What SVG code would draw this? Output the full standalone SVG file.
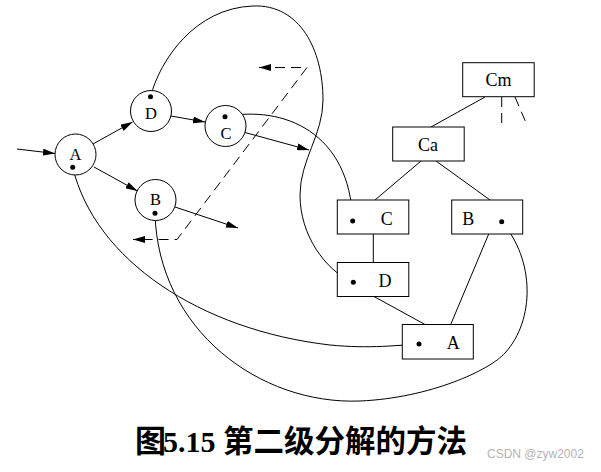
<svg xmlns="http://www.w3.org/2000/svg" width="601" height="472" viewBox="0 0 601 472">
<style>
.c{fill:#fff;stroke:#000;stroke-width:1}
.b{fill:#fff;stroke:#000;stroke-width:1}
.l{fill:none;stroke:#000;stroke-width:1}
.d{fill:none;stroke:#000;stroke-width:1;stroke-dasharray:10,6}
.t{font-family:"Liberation Serif","Times New Roman",serif;fill:#000;text-anchor:middle}
.tc{font-size:16.5px}
.tb{font-size:18px}
.dot{fill:#000;stroke:none}
.ah{fill:#000;stroke:none}
</style>
<defs>
<marker id="arr" markerUnits="userSpaceOnUse" markerWidth="13" markerHeight="7" refX="12" refY="3.5" orient="auto">
<path class="ah" d="M0,0 L12,3.5 L0,7 Z"/>
</marker>
<marker id="arrs" markerUnits="userSpaceOnUse" markerWidth="13" markerHeight="7" refX="12" refY="3.5" orient="auto-start-reverse">
<path class="ah" d="M0,0 L12,3.5 L0,7 Z"/>
</marker>
</defs>
<rect width="601" height="472" fill="#fff"/>

<g id="connectors">
<line class="l" x1="17" y1="149" x2="55" y2="153.5" marker-end="url(#arr)"/>
<line class="l" x1="93" y1="144" x2="132.5" y2="122" marker-end="url(#arr)"/>
<line class="l" x1="94" y1="167" x2="137.5" y2="191" marker-end="url(#arr)"/>
<line class="l" x1="171" y1="116" x2="205" y2="122" marker-end="url(#arr)"/>
<line class="l" x1="245" y1="132.5" x2="309" y2="150" marker-end="url(#arr)"/>
<line class="l" x1="175" y1="207" x2="238" y2="228" marker-end="url(#arr)"/>
<path class="d" d="M259,67.5 L307,67.5 L177,239.5 L133,239.5" marker-start="url(#arrs)" marker-end="url(#arrs)"/>
<path class="l" d="M150.5,96.7 C160,60 195,8 253,6 C300,4 323,50 323,100 C323,135 300,160 300,195 C300,235 325,270 353,282.5"/>
<path class="l" d="M225,116.7 C283,105 350,132 352.7,221"/>
<path class="l" d="M72.7,167.3 C95,260 200,330 330,345 C370,349 400,345 419,344"/>
<path class="l" d="M155,213.3 C158,330 260,405 360,401 C430,398 490,370 505,353 C535,320 535,260 501.7,221.7"/>
<line class="l" x1="485" y1="97" x2="431" y2="127"/>
<line class="d" x1="501.7" y1="97" x2="501.7" y2="124"/>
<line class="d" x1="515" y1="97" x2="527" y2="125"/>
<line class="l" x1="421" y1="161" x2="375" y2="200"/>
<line class="l" x1="436" y1="161" x2="490" y2="200"/>
<line class="l" x1="373.3" y1="234" x2="373.3" y2="262.5"/>
<line class="l" x1="374" y1="296.5" x2="425" y2="324.5"/>
<line class="l" x1="488.7" y1="234" x2="450.7" y2="324.5"/>
</g>

<g id="circleA">
<circle class="c" cx="75.5" cy="154.5" r="20.5"/>
<text class="t tc" x="75.5" y="159.5">A</text>
<circle class="dot" cx="72.7" cy="167.3" r="2.5"/>
</g>
<g id="circleD">
<circle class="c" cx="151" cy="111" r="20.5"/>
<text class="t tc" x="151" y="119">D</text>
<circle class="dot" cx="150.5" cy="96.7" r="2.5"/>
</g>
<g id="circleC">
<circle class="c" cx="225.5" cy="126" r="20.5"/>
<text class="t tc" x="226" y="138.5">C</text>
<circle class="dot" cx="225" cy="116.7" r="2.5"/>
</g>
<g id="circleB">
<circle class="c" cx="155.5" cy="200" r="20.5"/>
<text class="t tc" x="155.5" y="205">B</text>
<circle class="dot" cx="155" cy="213.3" r="2.5"/>
</g>

<g id="boxCm">
<rect class="b" x="462.7" y="62.7" width="71.5" height="34"/>
<text class="t tb" x="498.5" y="85.5">Cm</text>
</g>
<g id="boxCa">
<rect class="b" x="392.7" y="127" width="71.5" height="34"/>
<text class="t tb" x="428" y="151">Ca</text>
</g>
<g id="boxC">
<rect class="b" x="337.3" y="200" width="71.5" height="34"/>
<text class="t tb" x="386.7" y="225">C</text>
<circle class="dot" cx="352.7" cy="221" r="2.5"/>
</g>
<g id="boxB">
<rect class="b" x="451.7" y="200" width="71" height="34"/>
<text class="t tb" x="468.3" y="225">B</text>
<circle class="dot" cx="501.7" cy="221.7" r="2.5"/>
</g>
<g id="boxD">
<rect class="b" x="337.3" y="262.5" width="71.5" height="34"/>
<text class="t tb" x="385" y="286.7">D</text>
<circle class="dot" cx="353.3" cy="282.3" r="2.5"/>
</g>
<g id="boxA">
<rect class="b" x="402.3" y="324.5" width="71" height="34.5"/>
<text class="t tb" x="453.3" y="349">A</text>
<circle class="dot" cx="419" cy="344" r="2.5"/>
</g>

<g id="caption">
<text x="135" y="452" font-family="'Liberation Serif','Noto Sans CJK SC',serif" font-weight="bold" fill="#000"><tspan font-size="31">图</tspan><tspan x="163" font-size="30">5.15</tspan><tspan x="223" font-size="30.5">第二级分解的方法</tspan></text>
<text x="487" y="458" font-family="'Liberation Sans',Arial,sans-serif" font-size="12" fill="#b4b4b4">CSDN @zyw2002</text>
</g>
</svg>
